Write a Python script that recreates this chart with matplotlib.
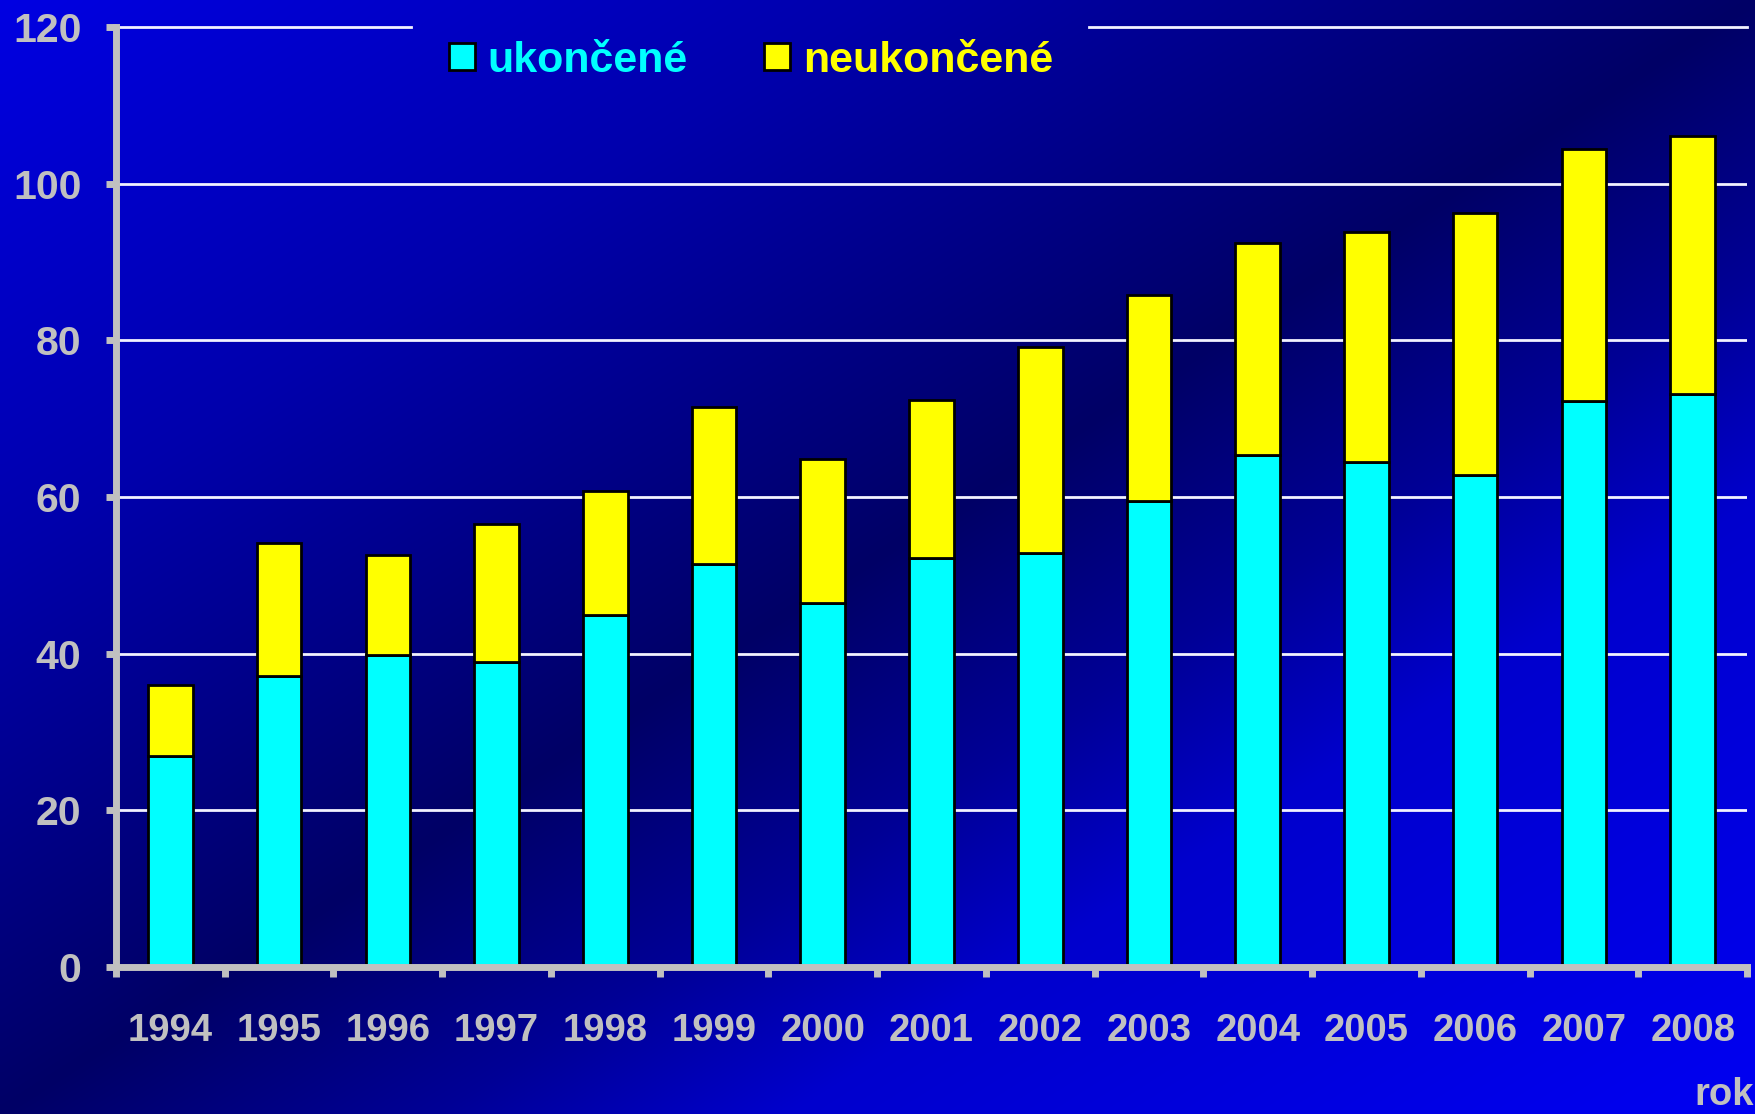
import numpy as np
import matplotlib
matplotlib.use("Agg")
import matplotlib.pyplot as plt

years = ["1994", "1995", "1996", "1997", "1998", "1999", "2000", "2001",
         "2002", "2003", "2004", "2005", "2006", "2007", "2008"]
ukoncene = [27.0, 37.2, 39.8, 38.9, 44.9, 51.4, 46.5, 52.2,
            52.8, 59.5, 65.4, 64.5, 62.8, 72.2, 73.2]
totals = [36.0, 54.1, 52.6, 56.6, 60.8, 71.5, 64.8, 72.4,
          79.1, 85.8, 92.4, 93.8, 96.3, 104.4, 106.1]
neukoncene = [t - u for t, u in zip(totals, ukoncene)]
yticks = [0, 20, 40, 60, 80, 100, 120]

W, H = 1756, 1114
fig = plt.figure(figsize=(W / 100, H / 100), dpi=100)

# background diagonal gradient
bg = fig.add_axes([0, 0, 1, 1], zorder=-10)
xx, yy = np.meshgrid(np.linspace(0, 1, 400), np.linspace(0, 1, 300))
s = xx + yy
blue = np.interp(s, [0, 0.5, 1.0, 1.25, 1.45, 2.0], [226, 172, 102, 150, 205, 242]) / 255.0
img = np.zeros(s.shape + (3,))
img[..., 2] = blue
bg.imshow(img, aspect="auto", extent=[0, 1, 0, 1], origin="upper", interpolation="bilinear")
bg.set_axis_off()

ax = fig.add_axes([116 / W, 147 / H, (1747 - 116) / W, 940 / H])
ax.set_facecolor("none")

grey = "#C0C0C0"
x = np.arange(len(years))
b1 = ax.bar(x, ukoncene, width=0.41, color="#00FFFF", edgecolor="black",
            linewidth=2, label="ukončené", zorder=3)
b2 = ax.bar(x, neukoncene, bottom=ukoncene, width=0.41, color="#FFFF00",
            edgecolor="black", linewidth=2, label="neukončené", zorder=3)

ax.set_xlim(-0.5, len(years) - 0.5)
ax.set_ylim(0, 120)

gc = "#F2F2FF"
for v in yticks[1:-1]:
    ax.axhline(v, color=gc, lw=2, zorder=1)
ax.axhline(120, xmax=(411 - 116) / 1631, color=gc, lw=2, zorder=1, clip_on=False)
ax.axhline(120, xmin=(1089 - 116) / 1631, color=gc, lw=2, zorder=1, clip_on=False)

for side in ["top", "right"]:
    ax.spines[side].set_visible(False)
for side in ["left", "bottom"]:
    ax.spines[side].set_color(grey)
    ax.spines[side].set_linewidth(5)
    ax.spines[side].set_zorder(4)

font = "Liberation Sans"
ax.set_xticks(np.arange(-0.5, len(years), 1.0))
ax.set_xticklabels([])
ax.set_xticks(x, minor=True)
ax.set_xticklabels(years, minor=True, fontsize=27.5, fontweight="bold",
                   color=grey, family=font)
ax.tick_params(axis="x", which="major", length=7.5, width=5, color=grey, direction="out")
ax.tick_params(axis="x", which="minor", length=0, pad=33)
ax.set_yticks(yticks)
ax.set_yticklabels([str(v) for v in yticks], fontsize=29.5, fontweight="bold",
                   color=grey, family=font)
ax.tick_params(axis="y", length=7, width=5, color=grey, direction="out", pad=18)

leg = ax.legend(handles=[b1, b2], loc="center", bbox_to_anchor=(751 / W, 1 - 61 / H),
                bbox_transform=fig.transFigure, ncol=2, frameon=False,
                handlelength=0.6, handleheight=0.58, handletextpad=0.3,
                columnspacing=1.77, prop={"family": font, "weight": "bold", "size": 31})
for t, c in zip(leg.get_texts(), ["#00FFFF", "#FFFF00"]):
    t.set_color(c)

fig.text(1754 / W, 1 / H, "rok", ha="right", va="bottom", fontsize=27.5,
         fontweight="bold", color=grey, family=font)

fig.savefig("out.png", dpi=100)
